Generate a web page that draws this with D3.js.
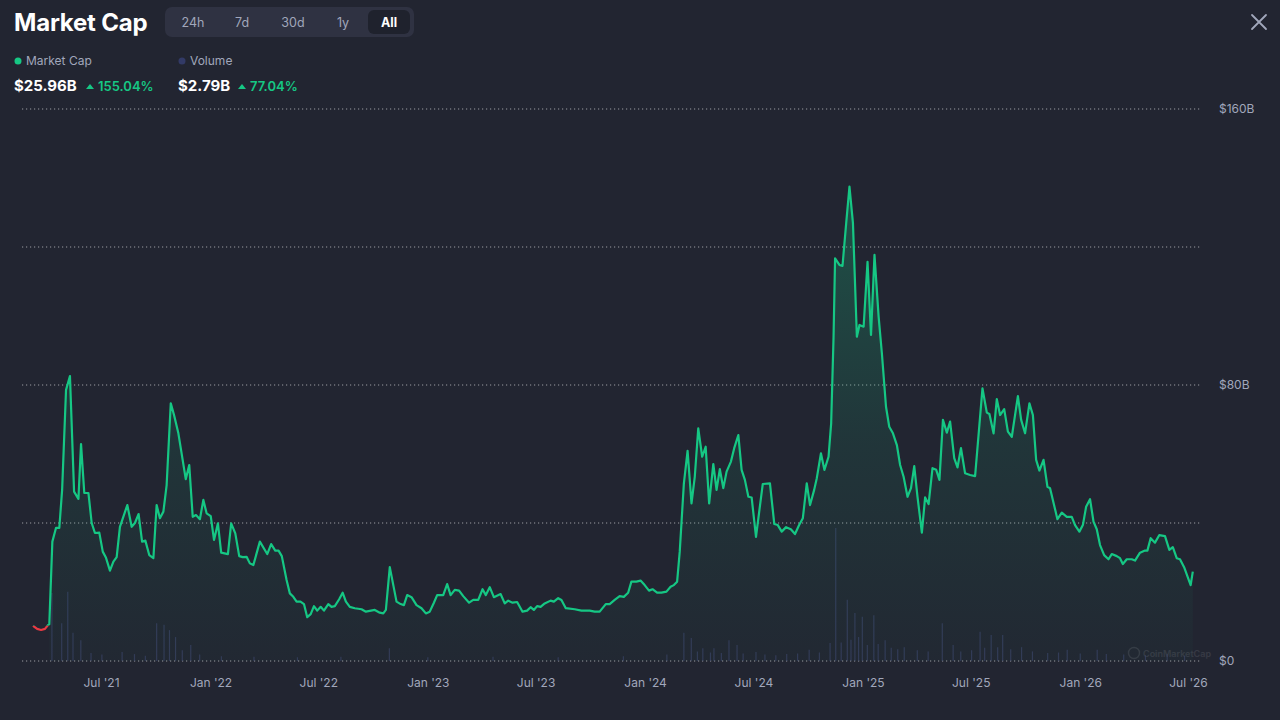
<!DOCTYPE html>
<html>
<head>
<meta charset="utf-8">
<script src="https://cdn.jsdelivr.net/npm/d3@7"></script>
<style>
  html, body { margin: 0; padding: 0; background: #222531; }
  body { width: 1280px; height: 720px; overflow: hidden; font-family: Inter, "Noto Sans", sans-serif; }
</style>
</head>
<body>
<div id="chart"></div>
<script>
// MARKET CAP CHART (All range)

// dates as decimal years, values in $B
const capYears = [
  2021.183, 2021.202, 2021.220, 2021.238, 2021.252, 2021.258, 2021.272, 2021.289, 2021.304, 2021.317,
  2021.335, 2021.353, 2021.372, 2021.392, 2021.404, 2021.419, 2021.438, 2021.453, 2021.468, 2021.488,
  2021.504, 2021.519, 2021.537, 2021.553, 2021.568, 2021.583, 2021.617, 2021.637, 2021.652, 2021.669,
  2021.685, 2021.700, 2021.718, 2021.737, 2021.752, 2021.767, 2021.783, 2021.798, 2021.817, 2021.832,
  2021.852, 2021.886, 2021.902, 2021.918, 2021.933, 2021.951, 2021.967, 2021.982, 2022.001, 2022.016,
  2022.034, 2022.049, 2022.080, 2022.095, 2022.114, 2022.132, 2022.148, 2022.166, 2022.181, 2022.197,
  2022.227, 2022.261, 2022.279, 2022.298, 2022.313, 2022.328, 2022.350, 2022.365, 2022.381, 2022.396,
  2022.414, 2022.430, 2022.445, 2022.461, 2022.476, 2022.491, 2022.507, 2022.522, 2022.542, 2022.557,
  2022.572, 2022.592, 2022.608, 2022.623, 2022.641, 2022.664, 2022.695, 2022.715, 2022.756, 2022.779,
  2022.795, 2022.807, 2022.825, 2022.856, 2022.875, 2022.890, 2022.905, 2022.925, 2022.948, 2022.971,
  2022.991, 2023.009, 2023.028, 2023.043, 2023.071, 2023.089, 2023.105, 2023.124, 2023.144, 2023.163,
  2023.190, 2023.209, 2023.232, 2023.252, 2023.267, 2023.285, 2023.304, 2023.335, 2023.354, 2023.370,
  2023.390, 2023.411, 2023.436, 2023.457, 2023.473, 2023.488, 2023.503, 2023.519, 2023.538, 2023.565,
  2023.580, 2023.600, 2023.615, 2023.635, 2023.676, 2023.707, 2023.745, 2023.768, 2023.791, 2023.819,
  2023.837, 2023.860, 2023.883, 2023.902, 2023.922, 2023.937, 2023.960, 2023.979, 2023.998, 2024.018,
  2024.034, 2024.055, 2024.075, 2024.098, 2024.117, 2024.132, 2024.147, 2024.159, 2024.178, 2024.195,
  2024.213, 2024.228, 2024.244, 2024.262, 2024.278, 2024.294, 2024.313, 2024.328, 2024.343, 2024.359,
  2024.374, 2024.394, 2024.409, 2024.428, 2024.443, 2024.458, 2024.474, 2024.489, 2024.509, 2024.540,
  2024.573, 2024.593, 2024.609, 2024.627, 2024.647, 2024.669, 2024.688, 2024.707, 2024.724, 2024.742,
  2024.757, 2024.776, 2024.788, 2024.807, 2024.823, 2024.842, 2024.854, 2024.865, 2024.872, 2024.892,
  2024.906, 2024.923, 2024.938, 2024.954, 2024.972, 2024.984, 2025.003, 2025.021, 2025.037, 2025.053,
  2025.072, 2025.087, 2025.106, 2025.121, 2025.138, 2025.156, 2025.171, 2025.187, 2025.205, 2025.221,
  2025.236, 2025.251, 2025.271, 2025.286, 2025.302, 2025.320, 2025.337, 2025.352, 2025.368, 2025.386,
  2025.401, 2025.420, 2025.435, 2025.451, 2025.470, 2025.493, 2025.516, 2025.550, 2025.570, 2025.582,
  2025.601, 2025.616, 2025.631, 2025.650, 2025.667, 2025.685, 2025.713, 2025.728, 2025.746, 2025.766,
  2025.782, 2025.797, 2025.812, 2025.831, 2025.849, 2025.861, 2025.895, 2025.915, 2025.938, 2025.961,
  2025.976, 2025.996, 2026.012, 2026.027, 2026.045, 2026.061, 2026.076, 2026.091, 2026.110, 2026.130,
  2026.145, 2026.168, 2026.183, 2026.196, 2026.214, 2026.237, 2026.252, 2026.275, 2026.298, 2026.309,
  2026.324, 2026.344, 2026.364, 2026.390, 2026.410, 2026.426, 2026.444, 2026.459, 2026.478, 2026.508,
  2026.518
];
const capValues = [
  10.2, 9.3, 9.0, 9.3, 10.4, 10.7, 34.6, 38.6, 38.6, 49.6,
  78.6, 82.6, 49.1, 47.0, 62.9, 48.7, 48.7, 40.0, 37.1, 37.2,
  31.7, 29.9, 26.2, 28.8, 30.1, 38.9, 45.2, 38.9, 40.0, 42.6,
  34.6, 34.9, 30.7, 29.8, 45.2, 41.4, 43.3, 51.0, 74.7, 71.3,
  66.0, 52.7, 56.8, 41.8, 42.3, 41.1, 46.7, 42.8, 42.0, 35.1,
  39.9, 31.4, 31.0, 39.9, 37.0, 30.4, 30.1, 30.2, 28.3, 27.8,
  34.6, 31.0, 33.9, 32.0, 32.0, 30.4, 23.5, 19.6, 18.6, 17.2,
  17.2, 16.5, 12.7, 13.6, 15.9, 14.6, 15.7, 14.6, 16.5, 15.7,
  15.9, 17.9, 19.8, 17.2, 15.7, 15.3, 15.0, 14.3, 14.8, 14.0,
  13.8, 14.8, 27.2, 17.2, 16.5, 16.2, 19.1, 18.5, 16.2, 15.3,
  13.8, 14.3, 16.9, 19.1, 19.1, 22.3, 19.1, 20.6, 20.4, 18.8,
  16.9, 17.7, 17.7, 20.8, 19.1, 21.4, 18.5, 19.4, 16.7, 17.5,
  16.9, 17.1, 14.3, 14.6, 15.6, 14.8, 15.9, 15.7, 16.7, 17.5,
  17.2, 18.2, 17.7, 15.3, 15.0, 14.6, 14.6, 14.3, 14.3, 16.5,
  16.5, 17.7, 18.8, 18.6, 19.8, 23.0, 23.0, 23.3, 22.0, 20.4,
  20.8, 19.8, 19.8, 20.1, 21.5, 22.0, 23.0, 31.7, 51.5, 60.9,
  45.7, 53.4, 67.4, 59.2, 62.1, 45.7, 57.1, 49.6, 55.6, 50.1,
  54.9, 57.8, 61.7, 65.5, 55.4, 52.5, 47.6, 47.4, 36.0, 51.3,
  51.5, 39.7, 39.4, 37.5, 38.8, 38.2, 36.8, 39.4, 41.4, 51.5,
  45.2, 49.6, 53.0, 60.2, 55.4, 59.2, 68.9, 94.0, 116.7, 114.8,
  114.5, 126.9, 137.5, 126.9, 94.0, 97.4, 96.9, 115.7, 94.5, 117.7,
  99.8, 89.2, 73.7, 67.9, 66.0, 62.6, 56.8, 53.4, 47.6, 50.1,
  56.5, 47.6, 37.2, 47.4, 45.5, 55.9, 55.4, 52.5, 69.9, 66.2,
  69.4, 58.8, 56.1, 61.7, 54.4, 53.9, 53.6, 79.0, 72.0, 71.6,
  66.0, 75.9, 71.3, 73.0, 66.5, 65.0, 76.8, 69.9, 66.0, 74.7,
  71.3, 58.3, 55.2, 58.3, 50.5, 50.1, 41.1, 43.0, 41.8, 41.8,
  39.4, 37.5, 39.4, 44.7, 46.9, 40.4, 38.2, 33.6, 30.7, 29.5,
  31.0, 30.4, 29.8, 28.1, 29.5, 29.5, 29.1, 31.4, 32.0, 32.0,
  35.6, 34.3, 36.5, 36.2, 32.2, 33.0, 29.8, 29.5, 27.2, 22.0,
  25.9
];

const volYears = [
  2021.270, 2021.315, 2021.343, 2021.367, 2021.403, 2021.450, 2021.500, 2021.593, 2021.650, 2021.700,
  2021.752, 2021.786, 2021.811, 2021.839, 2021.870, 2021.909, 2021.950, 2022.050, 2022.200, 2022.400,
  2022.600, 2022.823, 2023.000, 2023.300, 2023.600, 2023.900, 2024.100, 2024.178, 2024.212, 2024.240,
  2024.265, 2024.300, 2024.316, 2024.350, 2024.385, 2024.422, 2024.450, 2024.509, 2024.550, 2024.600,
  2024.650, 2024.700, 2024.753, 2024.800, 2024.849, 2024.875, 2024.900, 2024.928, 2024.945, 2024.963,
  2024.980, 2024.997, 2025.020, 2025.050, 2025.070, 2025.102, 2025.130, 2025.160, 2025.190, 2025.250,
  2025.300, 2025.365, 2025.415, 2025.450, 2025.500, 2025.539, 2025.560, 2025.590, 2025.620, 2025.643,
  2025.680, 2025.730, 2025.780, 2025.850, 2025.900, 2025.940, 2026.000, 2026.078, 2026.120, 2026.200,
  2026.300, 2026.400, 2026.480
];
const volValues = [
  12.8, 7.1, 13.0, 5.3, 3.9, 1.5, 1.2, 1.7, 1.3, 1.0,
  7.1, 6.8, 5.8, 4.5, 2.0, 3.0, 1.2, 0.9, 0.8, 0.7,
  0.8, 2.4, 0.7, 0.8, 0.7, 0.9, 1.2, 5.3, 4.3, 1.8,
  2.4, 1.6, 2.4, 1.5, 3.9, 3.0, 1.4, 1.7, 1.2, 1.1,
  1.3, 1.4, 2.1, 1.6, 3.4, 25.0, 3.5, 11.5, 4.0, 9.0,
  4.5, 8.3, 3.0, 8.6, 3.2, 3.9, 2.5, 2.2, 2.6, 2.0,
  1.8, 7.1, 3.0, 1.8, 2.0, 5.5, 2.5, 4.9, 2.6, 4.9,
  2.2, 2.6, 1.8, 1.5, 1.6, 2.1, 1.4, 2.1, 1.3, 1.2,
  1.1, 1.3, 1.0
];

const gridTicks = [0, 40, 80, 120, 160];
const yLabelTicks = [0, 80, 160];
const tabs = ["24h", "7d", "30d", "1y", "All"];

const W = 1280, H = 720;
const plot = { left: 22, right: 1202, top: 109, bottom: 661 };

function yearToDate(yr) {
  const y = Math.floor(yr);
  const start = new Date(y, 0, 1).getTime();
  const end = new Date(y + 1, 0, 1).getTime();
  return new Date(start + (yr - y) * (end - start));
}

const capData = capYears.map((yr, i) => ({ date: yearToDate(yr), value: capValues[i] }));
const volData = volYears.map((yr, i) => ({ date: yearToDate(yr), value: volValues[i] }));

const svg = d3.select("#chart").append("svg")
  .attr("width", W)
  .attr("height", H)
  .style("display", "block");

svg.append("rect").attr("width", W).attr("height", H).attr("fill", "#222531");

const x = d3.scaleTime()
  .domain([new Date(2021, 6, 1), new Date(2026, 6, 1)])
  .range([101, 1188]);

const y = d3.scaleLinear()
  .domain([0, 160])
  .range([plot.bottom, plot.top]);

const yVol = d3.scaleLinear()
  .domain([0, 25])
  .range([plot.bottom, 528]);

// HEADER

svg.append("text")
  .attr("x", 14).attr("y", 31)
  .attr("fill", "#ffffff")
  .attr("font-size", "24px")
  .attr("font-weight", "700")
  .attr("letter-spacing", "-0.2")
  .text("Market Cap");

const tabBox = svg.append("g").attr("transform", "translate(165,7)");
tabBox.append("rect")
  .attr("width", 249).attr("height", 30).attr("rx", 7)
  .attr("fill", "#2f3242");
tabBox.append("rect")
  .attr("x", 203).attr("y", 3).attr("width", 42).attr("height", 24).attr("rx", 6)
  .attr("fill", "#1f222d");
const tabX = [28, 77, 128, 178, 224];
tabBox.selectAll(".tab")
  .data(tabs)
  .join("text")
  .attr("class", "tab")
  .attr("x", (d, i) => tabX[i])
  .attr("y", 19.5)
  .attr("text-anchor", "middle")
  .attr("font-size", "12.5px")
  .attr("font-weight", d => d === "All" ? "700" : "400")
  .attr("fill", d => d === "All" ? "#ffffff" : "#a1a7bb")
  .text(d => d);

// close icon
svg.append("path")
  .attr("d", "M1252,15 L1266,29 M1266,15 L1252,29")
  .attr("stroke", "#a1a7bb")
  .attr("stroke-width", 1.8)
  .attr("stroke-linecap", "round");

// legend
const legendItems = [
  { x: 14, label: "Market Cap", color: "#16c784", value: "$25.96B", change: "155.04%", changeX: 98 },
  { x: 178, label: "Volume", color: "#323a66", value: "$2.79B", change: "77.04%", changeX: 250 }
];
legendItems.forEach(item => {
  svg.append("circle")
    .attr("cx", item.x + 4).attr("cy", 61).attr("r", 3.5)
    .attr("fill", item.color);
  svg.append("text")
    .attr("x", item.x + 12).attr("y", 65)
    .attr("fill", "#a1a7bb").attr("font-size", "12px")
    .text(item.label);
  svg.append("text")
    .attr("x", item.x).attr("y", 91)
    .attr("fill", "#ffffff").attr("font-size", "15px").attr("font-weight", "700")
    .text(item.value);
  svg.append("path")
    .attr("d", `M${item.changeX - 12},89 L${item.changeX - 8},84 L${item.changeX - 4},89 Z`)
    .attr("fill", "#16c784");
  svg.append("text")
    .attr("x", item.changeX).attr("y", 91)
    .attr("fill", "#16c784").attr("font-size", "13px").attr("font-weight", "600")
    .text(item.change);
});

// GRID + AXES

svg.append("g")
  .selectAll("line")
  .data(gridTicks)
  .join("line")
  .attr("x1", plot.left).attr("x2", plot.right)
  .attr("y1", d => y(d)).attr("y2", d => y(d))
  .attr("stroke", "rgba(255,255,255,0.55)")
  .attr("stroke-width", 1)
  .attr("stroke-dasharray", "1.2,2.8");

const yAxis = svg.append("g")
  .attr("transform", `translate(${plot.right},0)`)
  .call(d3.axisRight(y).tickValues(yLabelTicks).tickSize(0).tickPadding(17)
    .tickFormat(d => "$" + d + (d === 0 ? "" : "B")));
yAxis.select(".domain").remove();
yAxis.selectAll("text")
  .attr("fill", "#a1a7bb")
  .style("font-size", "12px")
  .style("font-family", "Inter, sans-serif");

const xAxis = svg.append("g")
  .attr("transform", `translate(0,${plot.bottom})`)
  .call(d3.axisBottom(x).ticks(d3.timeMonth.every(6)).tickSize(0).tickPadding(17)
    .tickFormat(d3.timeFormat("%b '%y")));
xAxis.select(".domain").remove();
xAxis.selectAll("text")
  .attr("fill", "#a1a7bb")
  .style("font-size", "12px")
  .style("font-family", "Inter, sans-serif");

// watermark
const wm = svg.append("g").attr("opacity", 0.09);
wm.append("circle").attr("cx", 1134).attr("cy", 653).attr("r", 5.5)
  .attr("fill", "none").attr("stroke", "#ffffff").attr("stroke-width", 1.4);
wm.append("text").attr("x", 1143).attr("y", 656.5)
  .attr("fill", "#ffffff").attr("font-size", "9px").attr("font-weight", "600")
  .text("CoinMarketCap");

// VOLUME BARS

svg.append("g")
  .selectAll("line")
  .data(volData)
  .join("line")
  .attr("x1", d => x(d.date)).attr("x2", d => x(d.date))
  .attr("y1", plot.bottom)
  .attr("y2", d => yVol(d.value))
  .attr("stroke", "#3a4266")
  .attr("stroke-opacity", 0.7)
  .attr("stroke-width", 1.2);

// MARKET CAP AREA + LINE

const defs = svg.append("defs");
const grad = defs.append("linearGradient")
  .attr("id", "capFill")
  .attr("gradientUnits", "userSpaceOnUse")
  .attr("x1", 0).attr("x2", 0)
  .attr("y1", y(140)).attr("y2", plot.bottom);
grad.append("stop").attr("offset", "0%").attr("stop-color", "#16c784").attr("stop-opacity", 0.28);
grad.append("stop").attr("offset", "55%").attr("stop-color", "#16c784").attr("stop-opacity", 0.1);
grad.append("stop").attr("offset", "100%").attr("stop-color", "#16c784").attr("stop-opacity", 0.02);

const baseY = y(capValues[0]);
defs.append("clipPath").attr("id", "clipUp")
  .append("rect").attr("x", 0).attr("y", 0).attr("width", W).attr("height", baseY);
defs.append("clipPath").attr("id", "clipDown")
  .append("rect").attr("x", 0).attr("y", baseY).attr("width", W).attr("height", H - baseY);

const area = d3.area()
  .x(d => x(d.date))
  .y0(plot.bottom)
  .y1(d => y(d.value));

const line = d3.line()
  .x(d => x(d.date))
  .y(d => y(d.value));

svg.append("path")
  .datum(capData.slice(5))
  .attr("d", area)
  .attr("fill", "url(#capFill)");

svg.append("path")
  .datum(capData)
  .attr("d", line)
  .attr("fill", "none")
  .attr("stroke", "#16c784")
  .attr("stroke-width", 2.2)
  .attr("stroke-linejoin", "round")
  .attr("clip-path", "url(#clipUp)");

svg.append("path")
  .datum(capData)
  .attr("d", line)
  .attr("fill", "none")
  .attr("stroke", "#ea3943")
  .attr("stroke-width", 2.2)
  .attr("stroke-linejoin", "round")
  .attr("clip-path", "url(#clipDown)");
</script>
</body>
</html>
